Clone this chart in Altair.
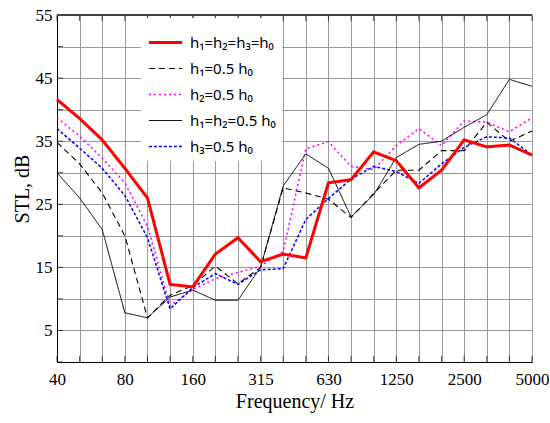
import altair as alt
import pandas as pd

# One-third-octave band centre frequencies (Hz)
FREQS = ["40", "50", "63", "80", "100", "125", "160", "200", "250", "315", "400",
         "500", "630", "800", "1000", "1250", "1600", "2000", "2500", "3150", "4000", "5000"]
X_LABELED = ["40", "80", "160", "315", "630", "1250", "2500", "5000"]
Y_TICKS = list(range(0, 60, 5))
Y_LABELED = ["5", "15", "25", "35", "45", "55"]

SERIES = ["h₁=h₂=h₃=h₀", "h₁=0.5 h₀", "h₂=0.5 h₀", "h₁=h₂=0.5 h₀", "h₃=0.5 h₀"]

# Sound transmission loss, dB
stl_all_h0 = [41.6, 38.6, 35.2, 30.7, 26.0, 12.3, 11.9, 17.1, 19.7, 15.9, 17.1,
              16.5, 28.4, 28.9, 33.3, 31.9, 27.6, 30.4, 35.2, 34.1, 34.4, 32.8]
stl_h1_half = [34.8, 31.4, 26.8, 20.0, 7.0, 10.6, 12.1, 15.2, 12.4, 15.0, 27.6,
               26.8, 25.8, 22.9, 26.7, 30.4, 30.4, 33.5, 33.5, 38.0, 35.0, 36.6]
stl_h2_half = [38.7, 35.8, 32.3, 28.4, 21.5, 8.9, 11.5, 13.2, 14.2, 15.2, 17.5,
               33.8, 34.9, 31.0, 30.5, 34.3, 37.0, 34.3, 38.2, 38.0, 36.5, 38.7]
stl_h12_half = [30.0, 26.0, 21.0, 7.8, 7.0, 10.3, 11.4, 9.8, 9.8, 15.0, 27.9,
                33.0, 30.7, 23.0, 26.5, 32.4, 34.5, 35.0, 37.2, 39.2, 44.8, 43.7]
stl_h3_half = [37.0, 33.9, 30.7, 26.4, 19.7, 8.4, 11.8, 14.0, 12.3, 14.6, 14.8,
               22.6, 25.9, 29.0, 31.0, 30.2, 28.3, 31.4, 34.0, 35.7, 35.5, 32.8]

VALUES = [stl_all_h0, stl_h1_half, stl_h2_half, stl_h12_half, stl_h3_half]
COLORS = ["#ff0000", "#000000", "#ff00ff", "#000000", "#0000ff"]
DASHES = [[1, 0], [6, 4], [2, 3], [1, 0], [3, 2]]
WIDTHS = [3, 1.1, 1.6, 1, 1.5]

# Thick red curve goes in last so it is drawn on top
rows = []
for name, vals in list(zip(SERIES, VALUES))[1:] + [(SERIES[0], VALUES[0])]:
    for f, v in zip(FREQS, vals):
        rows.append({"freq": f, "stl": v, "series": name})
df = pd.DataFrame(rows)

W, H = 475, 347
SERIF = "Liberation Serif"


def js_list(items):
    return "[" + ",".join("'%s'" % s for s in items) + "]"


x_axis = alt.Axis(labelExpr="indexof(%s, datum.label) >= 0 ? datum.label : ''" % js_list(X_LABELED),
                  labelAngle=0, labelOverlap=False, tickSize=0, labelPadding=9,
                  titlePadding=4, domainColor="black", grid=True)
y_axis = alt.Axis(values=Y_TICKS,
                  labelExpr="indexof(%s, datum.label) >= 0 ? datum.label : ''" % js_list(Y_LABELED),
                  labelOverlap=False, labelFlush=False,
                  tickSize=0, labelPadding=5, titlePadding=3, domainColor="black", grid=True)
x_scale = alt.Scale(type="point", padding=0)
y_scale = alt.Scale(domain=[0, 55], nice=False, zero=False)


def x_enc():
    return alt.X("freq:O", sort=FREQS, scale=x_scale, axis=x_axis, title="Frequency/ Hz")


def y_enc():
    return alt.Y("stl:Q", scale=y_scale, axis=y_axis, title="STL, dB")


lines = alt.Chart(df).mark_line(strokeCap="butt").encode(
    x=x_enc(),
    y=y_enc(),
    color=alt.Color("series:N", scale=alt.Scale(domain=SERIES, range=COLORS), legend=alt.Legend(title=None)),
    strokeDash=alt.StrokeDash("series:N", scale=alt.Scale(domain=SERIES, range=DASHES), legend=alt.Legend(title=None)),
    strokeWidth=alt.StrokeWidth("series:N", scale=alt.Scale(type="ordinal", domain=SERIES, range=WIDTHS),
                                legend=alt.Legend(title=None)),
)

# Inward-pointing tick marks along the frame
left_ticks = alt.Chart(pd.DataFrame({"stl": Y_TICKS})).mark_tick(
    orient="horizontal", size=6, thickness=1, color="black"
).encode(y=y_enc(), x=alt.value(3))

band_df = pd.DataFrame({"freq": FREQS})
bottom_ticks = alt.Chart(band_df).mark_tick(
    orient="vertical", size=6, thickness=1, color="black"
).encode(x=x_enc(), y=alt.value(H - 3))
top_ticks = alt.Chart(band_df).mark_tick(
    orient="vertical", size=6, thickness=1, color="black"
).encode(x=x_enc(), y=alt.value(3))

top_edge = alt.Chart(band_df).mark_rule(color="#444", strokeWidth=1).encode(
    x=alt.value(0), x2=alt.value(W), y=alt.value(0)
)

chart = alt.layer(lines, left_ticks, bottom_ticks, top_ticks, top_edge).properties(
    width=W, height=H,
    autosize=alt.AutoSizeParams(type="none"),
    padding={"left": 57, "top": 15, "right": 18, "bottom": 61},
).configure_view(
    stroke=None
).configure_axis(
    gridColor="#9a9a9a", gridWidth=1, domainWidth=1,
    labelFont=SERIF, labelFontSize=17, labelColor="black",
    titleFont=SERIF, titleFontSize=20, titleFontWeight="normal", titleColor="black",
).configure_legend(
    orient="none", legendX=84, legendY=3,
    fillColor="white", padding=6,
    symbolType="stroke", symbolSize=1100,
    labelFont="Noto Sans", labelFontSize=15, labelColor="black",
    rowPadding=0, labelOffset=6,
)

chart.save("out.html", embed_options={"renderer": "svg", "actions": False})
